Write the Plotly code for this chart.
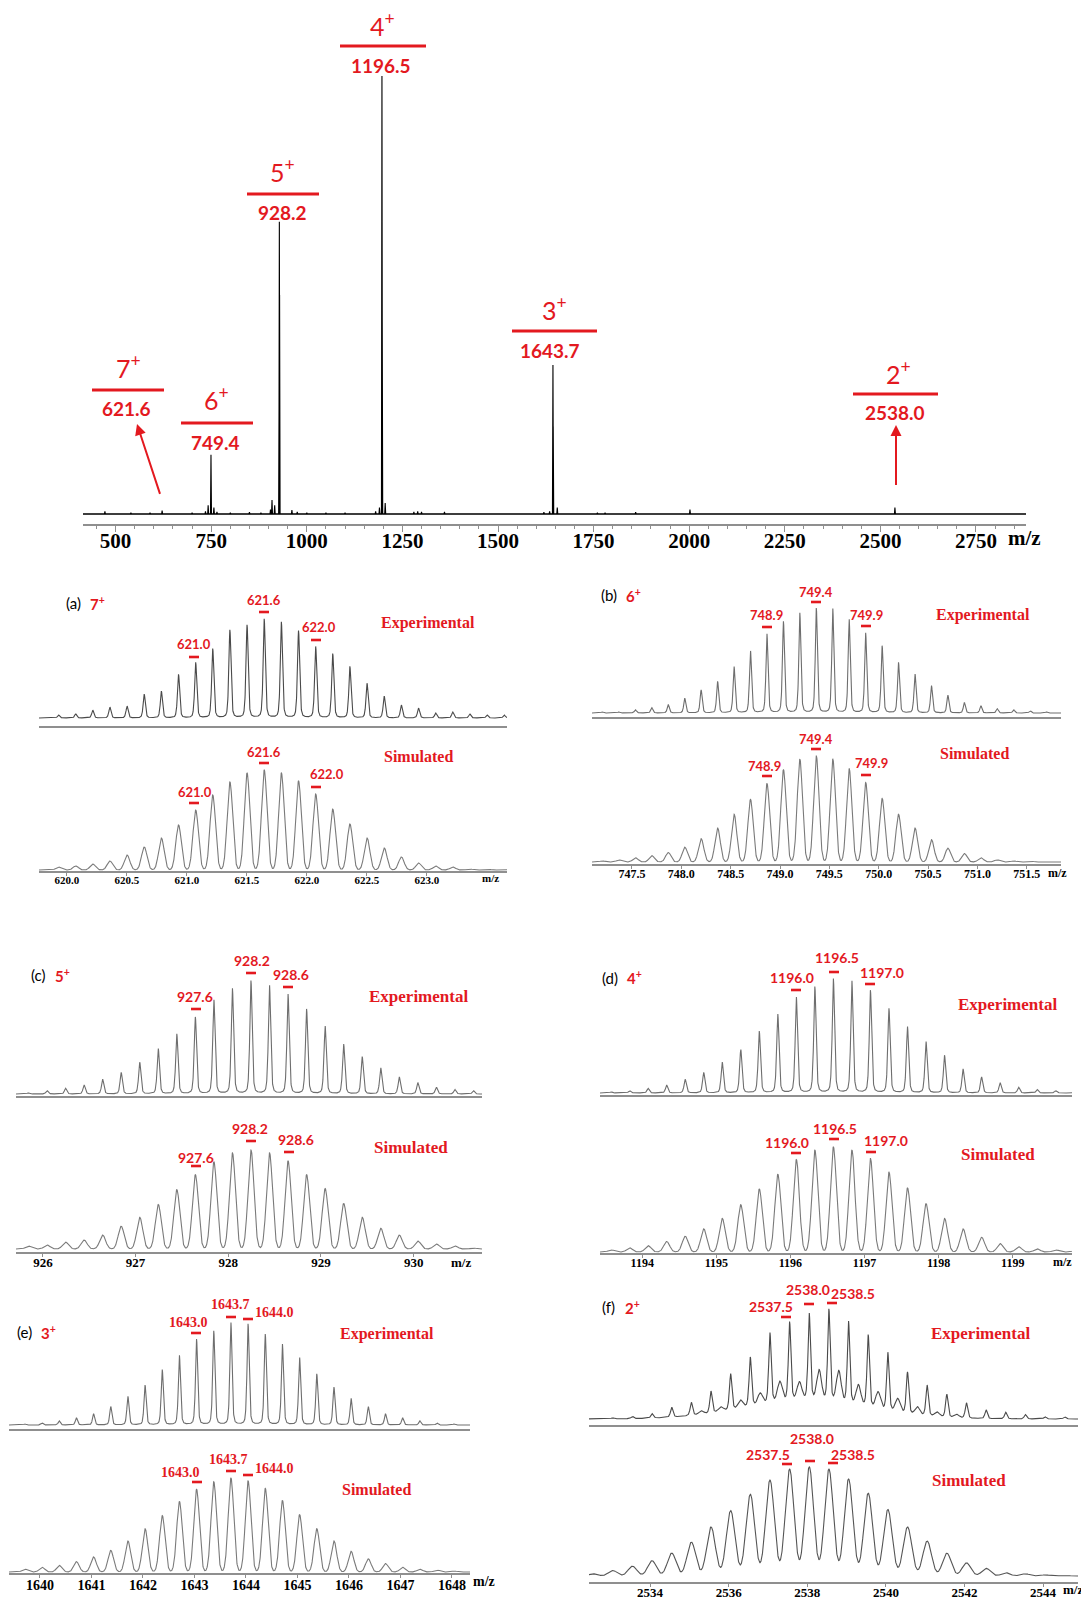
import numpy as np
import plotly.graph_objects as go

W, H = 1089, 1598
OFF = 8  # default page margin of the html body
RED = "#e3191f"
SANS = "Lato"
SERIF = "Liberation Serif"

# ---------------- survey spectrum (top) ----------------
survey_mz = [472, 540, 590, 621.6, 700, 735, 742, 749.4, 757, 765, 800, 850, 880, 905, 909, 916,
             927.6, 928.2, 928.8, 961, 975, 1000, 1050, 1100, 1180, 1190, 1196.5, 1197.2, 1205,
             1280, 1290, 1300, 1360, 1620, 1635, 1643.7, 1644.4, 1655, 1760, 1780, 1860, 2002, 2538.0]
survey_int = [0.6, 0.3, 0.3, 0.8, 0.3, 0.6, 2.0, 13.5, 1.5, 0.5, 0.3, 0.4, 0.3, 1.0, 3.2, 2.0,
              30, 66.7, 50, 0.9, 0.5, 0.3, 0.3, 0.3, 0.6, 1.5, 100, 45, 2.5,
              0.5, 0.6, 0.5, 0.5, 0.4, 0.6, 34, 20, 1.5, 0.3, 0.3, 0.4, 1.0, 1.5]
survey_ticks = [500, 750, 1000, 1250, 1500, 1750, 2000, 2250, 2500, 2750]
charges = ["7", "6", "5", "4", "3", "2"]
charge_mz_text = ["621.6", "749.4", "928.2", "1196.5", "1643.7", "2538.0"]

# ---------------- isotope patterns ----------------
a_z = 7
a_mz = [619.930, 620.073, 620.215, 620.358, 620.501, 620.644, 620.787, 620.930, 621.073, 621.215,
        621.358, 621.501, 621.644, 621.787, 621.930, 622.073, 622.215, 622.358, 622.501, 622.644,
        622.787, 622.930, 623.073, 623.215, 623.358, 623.501, 623.644]
a_exp = [.03, .04, .08, .11, .12, .24, .27, .44, .56, .70, .89, .94, 1.0, .97, .88, .72, .65, .52,
         .35, .22, .13, .10, .05, .06, .04, .03, .03]
a_sim = [.03, .04, .06, .09, .15, .23, .32, .45, .60, .75, .88, .97, 1.0, .97, .89, .76, .61, .46,
         .32, .22, .13, .07, .04, .03, .01, .01, .005]
a_ticks = [620.0, 620.5, 621.0, 621.5, 622.0, 622.5, 623.0]
a_labels = ["621.0", "621.6", "622.0"]

b_z = 6
b_mz = [747.201, 747.368, 747.535, 747.701, 747.868, 748.035, 748.201, 748.368, 748.535, 748.701,
        748.868, 749.035, 749.201, 749.368, 749.535, 749.701, 749.868, 750.035, 750.201, 750.368,
        750.535, 750.701, 750.868, 751.035, 751.201, 751.368, 751.535, 751.701]
b_exp = [.01, .01, .03, .05, .08, .14, .22, .30, .44, .59, .75, .87, .95, 1.0, .99, .89, .76, .64,
         .48, .37, .26, .17, .10, .07, .04, .03, .02, .01]
b_sim = [.01, .02, .04, .06, .09, .14, .22, .32, .45, .59, .74, .87, .97, 1.0, .97, .88, .75, .60,
         .45, .32, .21, .13, .08, .04, .02, .01, .01, .005]
b_ticks = [747.5, 748.0, 748.5, 749.0, 749.5, 750.0, 750.5, 751.0, 751.5]
b_labels = ["748.9", "749.4", "749.9"]

c_z = 5
c_mz = [925.845, 926.045, 926.245, 926.445, 926.645, 926.845, 927.045, 927.245, 927.445, 927.645,
        927.845, 928.045, 928.245, 928.445, 928.645, 928.845, 929.045, 929.245, 929.445, 929.645,
        929.845, 930.045, 930.245, 930.445, 930.645]
c_exp = [.01, .03, .05, .08, .13, .19, .28, .40, .53, .68, .83, .93, 1.0, .96, .88, .75, .60, .44,
         .33, .23, .15, .10, .06, .04, .03]
c_sim = [.03, .04, .07, .09, .14, .23, .32, .45, .60, .75, .88, .97, 1.0, .97, .89, .75, .61, .46,
         .32, .21, .14, .08, .05, .03, .01]
c_ticks = [926, 927, 928, 929, 930]
c_labels = ["927.6", "928.2", "928.6"]

d_z = 4
d_mz = [1193.58, 1193.83, 1194.08, 1194.33, 1194.58, 1194.83, 1195.08, 1195.33, 1195.58, 1195.83,
        1196.08, 1196.33, 1196.58, 1196.83, 1197.08, 1197.33, 1197.58, 1197.83, 1198.08, 1198.33,
        1198.58, 1198.83, 1199.08, 1199.33, 1199.58, 1199.83]
d_exp = [.01, .02, .04, .07, .12, .18, .27, .38, .54, .69, .84, .93, 1.0, .98, .90, .74, .58, .45,
         .33, .21, .14, .09, .05, .03, .02, .01]
d_sim = [.02, .04, .06, .10, .15, .22, .32, .45, .60, .74, .88, .97, 1.0, .97, .89, .76, .61, .46,
         .32, .22, .14, .08, .05, .03, .02, .01]
d_ticks = [1194, 1195, 1196, 1197, 1198, 1199]
d_labels = ["1196.0", "1196.5", "1197.0"]

e_z = 3
e_mz = [1639.709, 1640.042, 1640.376, 1640.709, 1641.042, 1641.376, 1641.709, 1642.042, 1642.376,
        1642.709, 1643.042, 1643.376, 1643.709, 1644.042, 1644.376, 1644.709, 1645.042, 1645.376,
        1645.709, 1646.042, 1646.376, 1646.709, 1647.042, 1647.376, 1647.709, 1648.042]
e_exp = [.01, .02, .04, .07, .11, .18, .28, .39, .54, .68, .84, .92, 1.0, .99, .89, .79, .66, .50,
         .37, .26, .18, .11, .07, .04, .02, .01]
e_sim = [.03, .05, .07, .11, .16, .23, .33, .46, .60, .75, .88, .96, 1.0, .97, .89, .76, .61, .46,
         .33, .22, .14, .09, .05, .03, .02, .01]
e_ticks = [1640, 1641, 1642, 1643, 1644, 1645, 1646, 1647, 1648]
e_labels = ["1643.0", "1643.7", "1644.0"]

f_z = 2
f_mz = [2532.55, 2533.05, 2533.55, 2534.05, 2534.55, 2535.05, 2535.55, 2536.05, 2536.55, 2537.05,
        2537.55, 2538.05, 2538.55, 2539.05, 2539.55, 2540.05, 2540.55, 2541.05, 2541.55, 2542.05,
        2542.55, 2543.05, 2543.55, 2544.05, 2544.55]
f_exp = [.005, .01, .02, .04, .09, .12, .20, .33, .45, .64, .72, .79, .84, .75, .66, .53, .38, .28,
         .21, .14, .08, .06, .04, .02, .02]
f_sim = [.02, .05, .09, .14, .21, .31, .45, .60, .75, .88, .98, 1.0, .98, .89, .76, .61, .45, .32,
         .21, .12, .07, .03, .02, .01, .005]
f_sat_mz = [2535.30, 2535.80, 2536.30, 2536.80, 2537.30, 2537.80, 2538.30, 2538.80, 2539.30,
            2539.80, 2540.30, 2540.80, 2541.30, 2541.80]
f_sat_int = [.03, .04, .07, .10, .18, .16, .27, .28, .18, .15, .12, .07, .04, .03]
f_hump_mz = [2538.0]
f_hump_int = [0.17]
f_ticks = [2534, 2536, 2538, 2540, 2542, 2544]
f_labels = ["2537.5", "2538.0", "2538.5"]

# ---------------- helpers ----------------
fig = go.Figure()
layout = {}
annotations = []
shapes = []
counter = [0]


def px_x(p):
    return (p - OFF) / W


def px_y(p):
    return 1 - (p - OFF) / H


def new_axes(x0, x1, mz0, mz1, axis_px, base_px, top_px, top_val=1.0, pad=22):
    counter[0] += 1
    i = counter[0]
    sx = "" if i == 1 else str(i)
    scale = (base_px - top_px) / top_val
    ymin = -(axis_px - base_px) / scale
    ymax = top_val + pad / scale
    layout["xaxis" + sx] = dict(domain=[px_x(x0), px_x(x1)], range=[mz0, mz1], anchor="y" + sx,
                                showgrid=False, zeroline=False, showline=True,
                                linecolor="#8f8f8f", linewidth=1.5, showticklabels=False, ticks="")
    layout["yaxis" + sx] = dict(domain=[px_y(axis_px), px_y(top_px - pad)], range=[ymin, ymax],
                                anchor="x" + sx, visible=False, showgrid=False, zeroline=False)
    return "x" + sx, "y" + sx, "xaxis" + sx


def exp_profile(grid, mz, h, z):
    s = 1.0 / z
    sg = 0.07 * s
    gl = 0.06 * s
    y = np.zeros_like(grid)
    for m, a in zip(mz, h):
        d = grid - m
        y += a * (0.5 * np.exp(-d ** 2 / (2 * sg ** 2)) + 0.5 / (1 + (d / gl) ** 2))
    return y


def sim_profile(grid, mz, h, z, frac=0.16):
    s = 1.0 / z
    sg = frac * s
    y = np.zeros_like(grid)
    for m, a in zip(mz, h):
        y += a * np.exp(-(grid - m) ** 2 / (2 * sg ** 2))
    return y


def text(x, y, t, size, color=RED, family=SANS, bold=True, xanchor="center"):
    annotations.append(dict(x=px_x(x), y=px_y(y), xref="paper", yref="paper", text=t,
                            showarrow=False, xanchor=xanchor, yanchor="middle",
                            font=dict(family=family, size=size, color=color,
                                      weight="bold" if bold else "normal")))


def dash(x, y, w=10):
    shapes.append(dict(type="line", xref="paper", yref="paper", x0=px_x(x - w / 2), x1=px_x(x + w / 2),
                       y0=px_y(y), y1=px_y(y), line=dict(color=RED, width=2.6)))


# ---------------- survey ----------------
sx_, sy_, sxa = new_axes(83, 1026, 414.7, 2880.8, 524, 514, 76, top_val=100, pad=6)
order = np.argsort(survey_mz)
xs, ys = [414.7], [0]
for k in order:
    m, h = survey_mz[k], survey_int[k]
    xs += [m - 1.3, m, m + 1.3]
    ys += [0, h, 0]
xs.append(2880.8)
ys.append(0)
shapes.append(dict(type="line", xref=sx_, yref=sy_, x0=414.7, x1=2880.8, y0=0, y1=0,
                   line=dict(color="#7a7a7a", width=2.2), layer="below"))
fig.add_trace(go.Scatter(x=xs, y=ys, xaxis=sx_, yaxis=sy_, mode="lines",
                         line=dict(color="black", width=1.1), hoverinfo="skip", showlegend=False))
layout[sxa].update(ticks="outside", ticklen=6, tickwidth=1, tickcolor="#8f8f8f",
                   tickvals=survey_ticks, ticktext=[str(t) for t in survey_ticks],
                   showticklabels=True, ticklabelstandoff=-9,
                   tickfont=dict(family=SERIF, size=21, color="black", weight="bold"),
                   minor=dict(tick0=0, dtick=50, ticks="outside", ticklen=3, tickcolor="#8f8f8f"))
text(1024, 538, "m/z", 21, color="black", family=SERIF)

survey_label_pos = [  # (charge x, charge y, line x0, line x1, line y, mz x, mz y)
    (128, 366, 92, 164, 390, 126, 409),
    (217, 399, 181, 253, 423, 215, 442),
    (282, 171, 247, 319, 194, 282, 213),
    (382, 25, 340, 426, 46, 381, 65),
    (554, 309, 512, 597, 331, 550, 350),
    (898, 372, 853, 938, 394, 895, 413),
]
for ch, lab, p in zip(charges, charge_mz_text, survey_label_pos):
    text(p[0], p[1], ch + "<sup>+</sup>", 25, bold=False)
    shapes.append(dict(type="line", xref="paper", yref="paper", x0=px_x(p[2]), x1=px_x(p[3]),
                       y0=px_y(p[4]), y1=px_y(p[4]), line=dict(color=RED, width=3)))
    text(p[5], p[6], lab, 19)

# arrows
annotations.append(dict(x=px_x(137), y=px_y(424), xref="paper", yref="paper", ax=26, ay=79,
                        axref="pixel", ayref="pixel", text=" ", showarrow=True, arrowhead=2,
                        arrowsize=1.1, arrowwidth=2, arrowcolor=RED))
annotations.append(dict(x=px_x(896), y=px_y(425), xref="paper", yref="paper", ax=0, ay=70,
                        axref="pixel", ayref="pixel", text=" ", showarrow=True, arrowhead=2,
                        arrowsize=1.1, arrowwidth=2, arrowcolor=RED))

# ---------------- panels ----------------
panels = [
    dict(tag="(a)", z=a_z, mz=a_mz, exp=a_exp, sim=a_sim, ticks=a_ticks, fmt="{:.1f}", labels=a_labels,
         tag_pos=(73, 603), x=(39, 507), rng=(619.767, 623.667), exp_px=(726, 718, 619),
         sim_px=(871, 870, 770), tickfont=11, mzlab=(490, 878),
         exp_lab=[(194, 644, 194, 657), (264, 600, 264, 612), (319, 627, 316, 640)], exp_txt=(428, 623),
         sim_lab=[(195, 792, 194, 803), (264, 752, 264, 763), (327, 774, 316, 787)], sim_txt=(418, 756),
         lab_font=SANS, lab_size=13, txt_size=16, exp_color="#4a4a4a", sim_color="#7a7a7a", simfrac=0.16),
    dict(tag="(b)", z=b_z, mz=b_mz, exp=b_exp, sim=b_sim, ticks=b_ticks, fmt="{:.1f}", labels=b_labels,
         tag_pos=(609, 595), x=(592, 1061), rng=(747.095, 751.847), exp_px=(717, 713, 608),
         sim_px=(864, 862, 756), tickfont=12, mzlab=(1057, 873),
         exp_lab=[(766, 615, 767, 627), (816, 592, 816, 602), (866, 615, 866, 626)], exp_txt=(983, 615),
         sim_lab=[(764, 766, 767, 776), (816, 739, 816, 749), (871, 763, 866, 775)], sim_txt=(974, 754),
         lab_font=SANS, lab_size=13, txt_size=16, exp_color="#6e6e6e", sim_color="#7a7a7a", simfrac=0.16),
    dict(tag="(c)", z=c_z, mz=c_mz, exp=c_exp, sim=c_sim, ticks=c_ticks, fmt="{:d}", labels=c_labels,
         tag_pos=(38, 975), x=(16, 482), rng=(925.71, 930.737), exp_px=(1096, 1094, 981),
         sim_px=(1252, 1249, 1150), tickfont=13, mzlab=(461, 1262),
         exp_lab=[(195, 997, 196, 1009), (252, 960, 251, 973), (291, 974, 288, 987)], exp_txt=(418, 997),
         sim_lab=[(196, 1157, 196, 1166), (250, 1128, 251, 1141), (296, 1139, 289, 1152)], sim_txt=(411, 1147),
         lab_font=SANS, lab_size=14, txt_size=17, exp_color="#6e6e6e", sim_color="#7a7a7a", simfrac=0.16),
    dict(tag="(d)", z=d_z, mz=d_mz, exp=d_exp, sim=d_sim, ticks=d_ticks, fmt="{:d}", labels=d_labels,
         tag_pos=(610, 978), x=(600, 1072), rng=(1193.43, 1199.80), exp_px=(1095, 1093, 979),
         sim_px=(1253, 1252, 1147), tickfont=12, mzlab=(1062, 1262),
         exp_lab=[(792, 977, 796, 990), (837, 957, 834, 972), (882, 972, 870, 984)], exp_txt=(1007, 1004),
         sim_lab=[(787, 1142, 796, 1153), (835, 1128, 834, 1139), (886, 1140, 871, 1152)], sim_txt=(998, 1154),
         lab_font=SANS, lab_size=14, txt_size=17, exp_color="#6e6e6e", sim_color="#7a7a7a", simfrac=0.16),
    dict(tag="(e)", z=e_z, mz=e_mz, exp=e_exp, sim=e_sim, ticks=e_ticks, fmt="{:d}", labels=e_labels,
         tag_pos=(24, 1332), x=(9, 470), rng=(1639.40, 1648.35), exp_px=(1429, 1425, 1323),
         sim_px=(1573, 1572, 1478), tickfont=14, mzlab=(484, 1581),
         exp_lab=[(188, 1322, 196, 1333), (230, 1304, 231, 1317), (274, 1312, 248, 1319)], exp_txt=(387, 1334),
         sim_lab=[(180, 1472, 197, 1482), (228, 1459, 231, 1471), (274, 1468, 248, 1475)], sim_txt=(376, 1489),
         lab_font=SERIF, lab_size=14, txt_size=16, exp_color="#6e6e6e", sim_color="#7a7a7a", simfrac=0.16),
    dict(tag="(f)", z=f_z, mz=f_mz, exp=f_exp, sim=f_sim, ticks=f_ticks, fmt="{:d}", labels=f_labels,
         tag_pos=(608, 1307), x=(589, 1078), rng=(2532.445, 2544.888), exp_px=(1425, 1419, 1309),
         sim_px=(1582, 1576, 1467), tickfont=13, mzlab=(1073, 1589),
         exp_lab=[(771, 1306, 786, 1317), (808, 1289, 809, 1304), (853, 1293, 832, 1303)], exp_txt=(980, 1333),
         sim_lab=[(768, 1454, 787, 1464), (812, 1438, 810, 1461), (853, 1454, 833, 1463)], sim_txt=(969, 1480),
         lab_font=SANS, lab_size=14, txt_size=17, exp_color="#4a4a4a", sim_color="#555555", simfrac=0.22),
]

for P in panels:
    grid = np.linspace(P["rng"][0], P["rng"][1], 3000)
    # experimental
    xa, ya, xkey = new_axes(P["x"][0], P["x"][1], P["rng"][0], P["rng"][1], *P["exp_px"])
    yexp = exp_profile(grid, P["mz"], P["exp"], P["z"])
    if P["tag"] == "(f)":
        yexp = yexp + sim_profile(grid, f_sat_mz, f_sat_int, P["z"], frac=0.12)
        for hm, hi in zip(f_hump_mz, f_hump_int):
            yexp = yexp + hi * np.exp(-(grid - hm) ** 2 / (2 * 1.6 ** 2))
    fig.add_trace(go.Scatter(x=grid, y=yexp, xaxis=xa, yaxis=ya, mode="lines",
                             line=dict(color=P["exp_color"], width=1.1), hoverinfo="skip", showlegend=False))
    # simulated
    xb, yb, xkey2 = new_axes(P["x"][0], P["x"][1], P["rng"][0], P["rng"][1], *P["sim_px"])
    ysim = sim_profile(grid, P["mz"], P["sim"], P["z"], frac=P["simfrac"])
    fig.add_trace(go.Scatter(x=grid, y=ysim, xaxis=xb, yaxis=yb, mode="lines",
                             line=dict(color=P["sim_color"], width=1.1), hoverinfo="skip", showlegend=False))
    layout[xkey2].update(showticklabels=True, ticks="outside", ticklen=3, tickcolor="#8f8f8f",
                         ticklabelstandoff=-5,
                         tickvals=P["ticks"], ticktext=[P["fmt"].format(t) for t in P["ticks"]],
                         tickfont=dict(family=SERIF, size=P["tickfont"], color="black", weight="bold"))
    text(P["mzlab"][0], P["mzlab"][1], "m/z", P["tickfont"], color="black", family=SERIF)
    # tags
    text(P["tag_pos"][0], P["tag_pos"][1], P["tag"], 15, color="black", bold=False)
    text(P["tag_pos"][0] + 24, P["tag_pos"][1], f"{P['z']}<sup>+</sup>", 15)
    # labels
    for lab, (tx, ty, dx, dy) in zip(P["labels"], P["exp_lab"]):
        text(tx, ty, lab, P["lab_size"], family=P["lab_font"])
        dash(dx, dy)
    for lab, (tx, ty, dx, dy) in zip(P["labels"], P["sim_lab"]):
        text(tx, ty, lab, P["lab_size"], family=P["lab_font"])
        dash(dx, dy)
    text(P["exp_txt"][0], P["exp_txt"][1], "Experimental", P["txt_size"], family=SERIF)
    text(P["sim_txt"][0], P["sim_txt"][1], "Simulated", P["txt_size"], family=SERIF)

fig.update_layout(width=W, height=H, margin=dict(l=0, r=0, t=0, b=0), paper_bgcolor="white",
                  plot_bgcolor="rgba(0,0,0,0)", showlegend=False, annotations=annotations, shapes=shapes,
                  **layout)
fig.write_html("out.html")
